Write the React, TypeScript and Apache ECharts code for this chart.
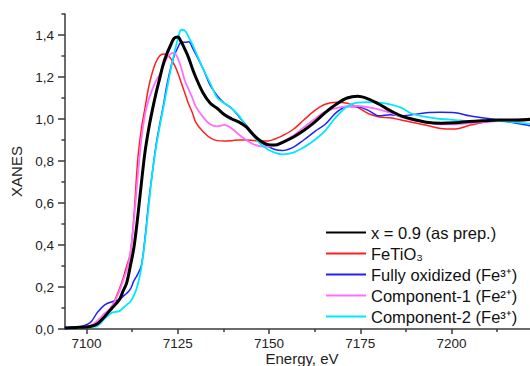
import React, { useEffect, useRef } from "react";
import * as echarts from "echarts";

const energy = [
  7094, 7098, 7101, 7103, 7105, 7107, 7109, 7110, 7111, 7112, 7113, 7114, 7115, 7116, 7117, 7118,
  7119, 7120, 7121, 7122, 7123, 7124, 7125, 7126, 7127, 7128, 7129, 7129.9, 7131.9, 7133.9, 7135.85,
  7137.8, 7139.8, 7141.8, 7143.75, 7145.7, 7147.7, 7149.7, 7151.6, 7153.6, 7156.6, 7159.5, 7162.5,
  7165.4, 7168.4, 7171.4, 7174.3, 7177.3, 7180.2, 7183.2, 7186.2, 7189.1, 7193.1, 7197, 7201, 7204.9,
  7208.9, 7212.8, 7217, 7220.9, 7222.7,
];

const asPrep = [
  0.005, 0.008, 0.012, 0.025, 0.06, 0.1, 0.14, 0.18, 0.22, 0.3, 0.39, 0.53, 0.69, 0.84, 0.95, 1.04,
  1.12, 1.19, 1.26, 1.31, 1.35, 1.385, 1.39, 1.365, 1.33, 1.29, 1.24, 1.2, 1.125, 1.075, 1.05,
  1.02, 1.0, 0.985, 0.962, 0.925, 0.895, 0.878, 0.876, 0.888, 0.913, 0.945, 0.985,
  1.03, 1.07, 1.1, 1.108, 1.095, 1.07, 1.04, 1.015, 1.0, 0.985, 0.98, 0.982, 0.988,
  0.992, 0.995, 0.995, 0.998, 1.0,
];

const feTiO3 = [
  0.005, 0.008, 0.015, 0.03, 0.06, 0.11, 0.19, 0.24, 0.3, 0.36, 0.54, 0.8, 0.95, 1.05, 1.15, 1.22,
  1.27, 1.3, 1.31, 1.305, 1.29, 1.26, 1.22, 1.17, 1.12, 1.07, 1.03, 0.985, 0.94, 0.91, 0.897,
  0.895, 0.897, 0.9, 0.9, 0.898, 0.895, 0.895, 0.905, 0.92, 0.95, 0.995, 1.04,
  1.07, 1.08, 1.075, 1.055, 1.025, 1.01, 1.006, 0.995, 0.985, 0.97, 0.955, 0.952, 0.97,
  0.985, 0.99, 0.99, 0.993, 0.995,
];

const fullyOxidized = [
  0.005, 0.01, 0.03, 0.08, 0.115, 0.13, 0.14, 0.155, 0.17, 0.19, 0.23, 0.26, 0.3, 0.43, 0.6, 0.74,
  0.87, 0.97, 1.06, 1.16, 1.24, 1.3, 1.34, 1.365, 1.365, 1.368, 1.34, 1.31, 1.24, 1.16, 1.11,
  1.075, 1.05, 1.01, 0.97, 0.93, 0.89, 0.87, 0.855, 0.85, 0.865, 0.9, 0.94,
  0.975, 1.03, 1.06, 1.058, 1.04, 1.015, 1.02, 1.015, 1.02, 1.03, 1.032, 1.03, 1.015,
  1.005, 0.995, 0.982, 0.97, 0.965,
];

const component1 = [
  0.008, 0.01, 0.015, 0.04, 0.075, 0.11, 0.18, 0.23, 0.28, 0.36, 0.52, 0.72, 0.9, 1.02, 1.09, 1.14,
  1.18, 1.21, 1.25, 1.29, 1.31, 1.315, 1.29, 1.24, 1.18, 1.14, 1.1, 1.06, 1.01, 0.975, 0.965,
  0.972, 0.955, 0.925, 0.9, 0.88, 0.87, 0.868, 0.875, 0.89, 0.92, 0.96, 1.0,
  1.035, 1.052, 1.06, 1.062, 1.055, 1.045, 1.03, 1.01, 0.995, 0.985, 0.975, 0.975, 0.98,
  0.985, 0.99, 0.995, 1.0, 1.0,
];

const component2 = [
  0.002, 0.005, 0.01, 0.015, 0.05, 0.078, 0.085, 0.1, 0.115, 0.13, 0.16, 0.21, 0.29, 0.42, 0.58, 0.74,
  0.86, 0.96, 1.05, 1.14, 1.23, 1.31, 1.38, 1.425, 1.42, 1.39, 1.355, 1.32, 1.24, 1.17, 1.1,
  1.075, 1.05, 1.015, 0.965, 0.92, 0.88, 0.855, 0.84, 0.832, 0.84, 0.865, 0.9,
  0.945, 1.01, 1.06, 1.078, 1.08, 1.078, 1.07, 1.054, 1.025, 1.01, 1.0, 0.995, 0.99,
  0.99, 0.99, 0.985, 0.978, 0.975,
];

const seriesNames = [
  "x = 0.9 (as prep.)",
  "FeTiO₃",
  "Fully oxidized (Fe³⁺)",
  "Component-1 (Fe²⁺)",
  "Component-2 (Fe³⁺)",
];
const seriesValues = [asPrep, feTiO3, fullyOxidized, component1, component2];
const seriesColors = ["#000000", "#ff1f1f", "#2020ff", "#ff6eff", "#00e8ff"];
const seriesWidths = [3, 1.5, 1.5, 1.8, 1.8];

const xMajorTicks = [7100, 7125, 7150, 7175, 7200];
const xMinorTicks = [7112.5, 7137.5, 7162.5, 7187.5, 7212.5];
const yMajorTicks = [0, 0.2, 0.4, 0.6, 0.8, 1.0, 1.2, 1.4];
const yMinorTicks = [0.1, 0.3, 0.5, 0.7, 0.9, 1.1, 1.3, 1.5];
const xAxisTitle = "Energy, eV";
const yAxisTitle = "XANES";

const FONT = "'Liberation Sans', Arial, sans-serif";
const AXIS_COLOR = "#3a3a3a";
const TEXT_COLOR = "#222";

export default function App() {
  const ref = useRef<HTMLDivElement>(null);

  useEffect(() => {
    if (!ref.current) return;
    const chart = echarts.init(ref.current, undefined, { renderer: "svg" });
    const axisLineStyle = { color: AXIS_COLOR, width: 1.5 };
    const xRange = { min: 7094.1, max: 7221.5 };
    const yRange = { min: 0, max: 1.5 };

    chart.setOption({
      animation: false,
      backgroundColor: "#ffffff",
      textStyle: { fontFamily: FONT },
      grid: { left: 65, right: 0, top: 14, bottom: 37, outerBoundsMode: "none", containLabel: false },
      legend: {
        data: seriesNames,
        orient: "vertical",
        left: 325,
        top: 224,
        itemWidth: 40,
        itemHeight: 14,
        itemGap: 4,
        padding: 0,
        itemStyle: { opacity: 0 },
        textStyle: { fontSize: 16.5, color: "#111", fontFamily: FONT, lineHeight: 17 },
      },
      graphic: [
        {
          type: "text",
          x: 302,
          y: 351,
          silent: true,
          style: {
            text: xAxisTitle,
            fill: TEXT_COLOR,
            font: `15px ${FONT}`,
            textAlign: "center",
            textVerticalAlign: "top",
          },
        },
      ],
      xAxis: [
        {
          type: "value",
          ...xRange,
          position: "bottom",
          axisLine: { show: true, onZero: false, lineStyle: axisLineStyle },
          axisTick: { show: true, length: 5, customValues: xMajorTicks, lineStyle: axisLineStyle },
          axisLabel: {
            customValues: xMajorTicks,
            formatter: (v: number) => String(v),
            fontSize: 13.5,
            color: TEXT_COLOR,
            margin: 7,
            fontFamily: FONT,
          },
          splitLine: { show: false },
        },
        {
          type: "value",
          ...xRange,
          position: "bottom",
          axisLine: { show: false },
          axisTick: { show: true, length: 3, customValues: xMinorTicks, lineStyle: axisLineStyle },
          axisLabel: { show: false },
          splitLine: { show: false },
        },
      ],
      yAxis: [
        {
          type: "value",
          ...yRange,
          position: "left",
          axisLine: { show: true, onZero: false, lineStyle: axisLineStyle },
          axisTick: { show: true, length: 7, customValues: yMajorTicks, lineStyle: axisLineStyle },
          axisLabel: {
            customValues: yMajorTicks,
            formatter: (v: number) => v.toFixed(1).replace(".", ","),
            fontSize: 13.5,
            color: TEXT_COLOR,
            margin: 11,
            fontFamily: FONT,
          },
          splitLine: { show: false },
          name: yAxisTitle,
          nameLocation: "middle",
          nameGap: 39,
          nameTextStyle: { fontSize: 15, color: TEXT_COLOR, fontFamily: FONT },
        },
        {
          type: "value",
          ...yRange,
          position: "left",
          axisLine: { show: false },
          axisTick: { show: true, length: 3.5, customValues: yMinorTicks, lineStyle: axisLineStyle },
          axisLabel: { show: false },
          splitLine: { show: false },
        },
      ],
      series: seriesNames.map((name, i) => ({
        name,
        type: "line",
        xAxisIndex: 0,
        yAxisIndex: 0,
        data: energy.map((e, k) => [e, seriesValues[i][k]]),
        symbol: "none",
        smooth: 0.35,
        clip: true,
        z: i === 0 ? 4 : 2,
        color: seriesColors[i],
        lineStyle: { color: seriesColors[i], width: seriesWidths[i] },
      })),
    });

    return () => chart.dispose();
  }, []);

  return (
    <div
      ref={ref}
      style={{ position: "fixed", left: 0, top: 0, width: 530, height: 366, background: "#fff" }}
    />
  );
}
